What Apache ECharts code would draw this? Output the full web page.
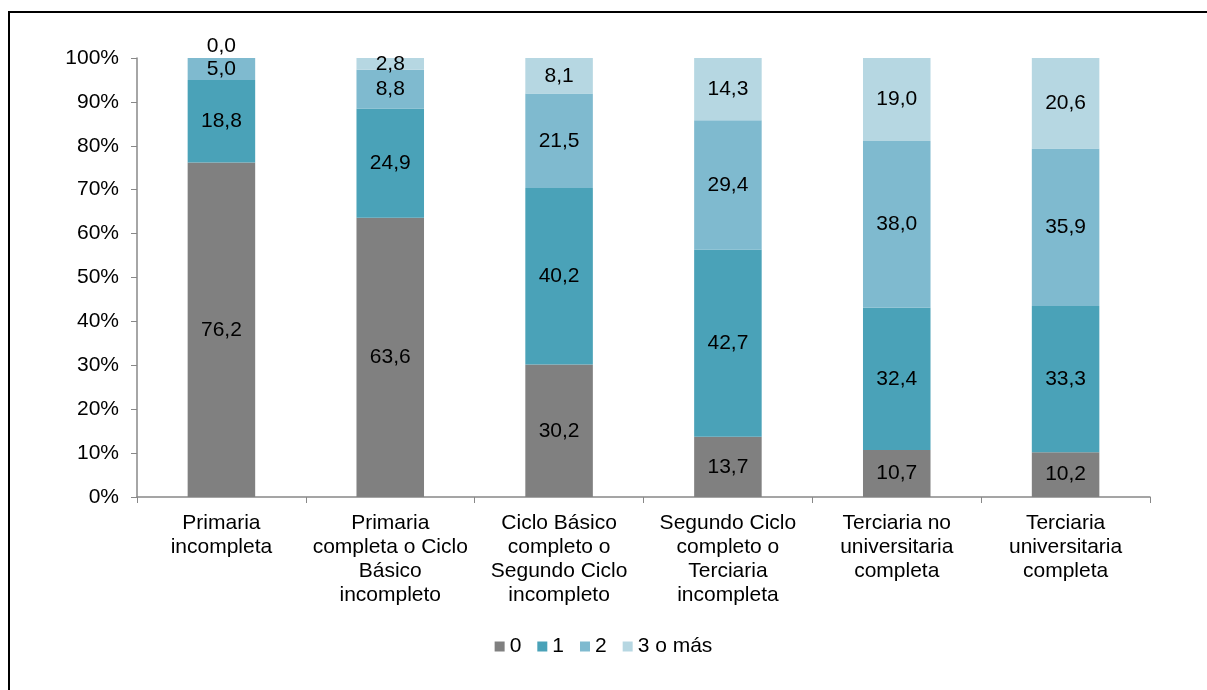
<!DOCTYPE html>
<html>
<head>
<meta charset="UTF-8">
<title>Hogares por nivel educativo</title>
<script src="https://cdn.jsdelivr.net/npm/echarts@6/dist/echarts.min.js"></script>
<style>
  html, body { margin: 0; padding: 0; background: #fff; }
  #chart { width: 1207px; height: 690px; }
</style>
</head>
<body>
<div id="chart"></div>
<script>
// categorias (nivel educativo)
var categorias = [
  'Primaria\nincompleta',
  'Primaria\ncompleta o Ciclo\nBásico\nincompleto',
  'Ciclo Básico\ncompleto o\nSegundo Ciclo\nincompleto',
  'Segundo Ciclo\ncompleto o\nTerciaria\nincompleta',
  'Terciaria no\nuniversitaria\ncompleta',
  'Terciaria\nuniversitaria\ncompleta'
];
var serieNombres = ['0', '1', '2', '3 o más'];
var valores0 = [76.2, 63.6, 30.2, 13.7, 10.7, 10.2];
var valores1 = [18.8, 24.9, 40.2, 42.7, 32.4, 33.3];
var valores2 = [5.0, 8.8, 21.5, 29.4, 38.0, 35.9];
var valores3 = [0.0, 2.8, 8.1, 14.3, 19.0, 20.6];
var yTicks = [0, 10, 20, 30, 40, 50, 60, 70, 80, 90, 100];

var colores = ['#808080', '#4aa2b8', '#7fbacf', '#b6d7e2'];
var todos = [valores0, valores1, valores2, valores3];

function coma(v) {
  return v.toFixed(1).replace('.', ',');
}

var chart = echarts.init(document.getElementById('chart'));

var series = todos.map(function (vals, i) {
  return {
    name: serieNombres[i],
    type: 'bar',
    stack: 'total',
    barWidth: '40%',
    itemStyle: { color: colores[i] },
    label: {
      show: true,
      position: 'inside',
      color: '#000',
      fontFamily: 'Liberation Sans, Arial, sans-serif',
      fontSize: 21,
      formatter: function (p) { return coma(p.value); }
    },
    data: vals.map(function (v) {
      if (v === 0) {
        // segmento vacio: la etiqueta queda encima
        return { value: v, label: { position: 'top', distance: 1 } };
      }
      return v;
    })
  };
});

var option = {
  animation: false,
  textStyle: { fontFamily: 'Liberation Sans, Arial, sans-serif' },
  graphic: [{
    type: 'rect',
    shape: { x: 9, y: 12, width: 1300, height: 800 },
    style: { fill: 'none', stroke: '#000', lineWidth: 2 },
    silent: true
  }],
  grid: { left: 137, right: 57, top: 58, bottom: 193 },
  legend: {
    top: 631,
    left: 'center',
    itemWidth: 10,
    itemHeight: 10,
    itemGap: 16,
    icon: 'rect',
    textStyle: { fontSize: 21, color: '#000', padding: [0, 0, 0, 0] },
    data: serieNombres
  },
  xAxis: {
    type: 'category',
    data: categorias,
    axisLine: { lineStyle: { color: '#888', width: 1.5 } },
    axisTick: { show: true, alignWithLabel: false, length: 6, lineStyle: { color: '#888' } },
    axisLabel: {
      interval: 0,
      color: '#000',
      fontSize: 21,
      lineHeight: 24,
      margin: 14,
      align: 'center'
    }
  },
  yAxis: {
    type: 'value',
    min: 0,
    max: 100,
    interval: 10,
    splitLine: { show: false },
    axisLine: { show: true, lineStyle: { color: '#888', width: 1.5 } },
    axisTick: { show: true, length: 6, lineStyle: { color: '#888' } },
    axisLabel: {
      color: '#000',
      fontSize: 21,
      margin: 18,
      formatter: function (v) { return yTicks.indexOf(v) >= 0 ? v + '%' : ''; }
    }
  },
  series: series
};

chart.setOption(option);
</script>
</body>
</html>
